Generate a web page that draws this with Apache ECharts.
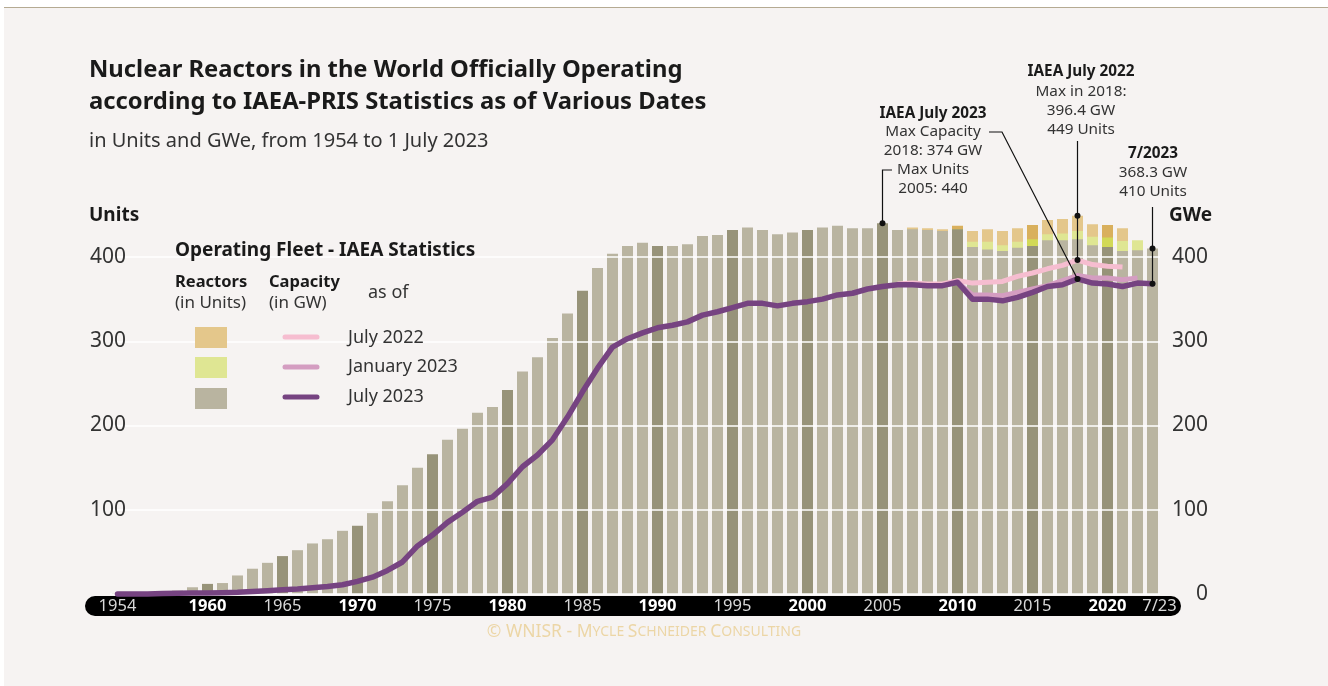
<!DOCTYPE html>
<html>
<head>
<meta charset="utf-8">
<title>Nuclear Reactors in the World</title>
<script src="https://cdn.jsdelivr.net/npm/echarts@6/dist/echarts.min.js"></script>
<style>
  html, body { margin: 0; padding: 0; background: #fff; }
  #chart { width: 1328px; height: 686px; }
</style>
</head>
<body>
<div id="chart"></div>
<script>
  // categories: one per year, last bar is the mid-2023 status
  const years = ['1954', '1955', '1956', '1957', '1958', '1959', '1960', '1961', '1962', '1963',
    '1964', '1965', '1966', '1967', '1968', '1969', '1970', '1971', '1972', '1973',
    '1974', '1975', '1976', '1977', '1978', '1979', '1980', '1981', '1982', '1983',
    '1984', '1985', '1986', '1987', '1988', '1989', '1990', '1991', '1992', '1993',
    '1994', '1995', '1996', '1997', '1998', '1999', '2000', '2001', '2002', '2003',
    '2004', '2005', '2006', '2007', '2008', '2009', '2010', '2011', '2012', '2013',
    '2014', '2015', '2016', '2017', '2018', '2019', '2020', '2021', '2022', '7/23'];

  // x labels that are printed on the black band
  const xLabels = ['1954', '1960', '1965', '1970', '1975', '1980', '1985', '1990', '1995',
    '2000', '2005', '2010', '2015', '2020', '7/23'];

  // reactors in operation (units), IAEA July 2023
  const unitsJul23 = [1, 1, 1, 2, 4, 8, 12, 13, 22, 30,
    37, 45, 52, 60, 65, 75, 81, 96, 110, 129,
    150, 166, 183, 196, 215, 222, 242, 264, 281, 304,
    333, 360, 387, 404, 413, 417, 413, 413, 415, 425,
    426, 432, 435, 432, 427, 429, 432, 435, 437, 434,
    434, 440, 432, 433, 432, 431, 433, 412, 409, 407,
    411, 413, 420, 420, 421, 414, 412, 407, 408, 410];
  // older statistics, only where they differ from July 2023
  const startJan23 = '2010';
  const unitsJan23 = [433, 418, 418, 414, 418, 421, 427, 428, 431, 424, 423, 419, 420];
  const startJul22 = '2006';
  const unitsJul22 = [432, 435, 434, 433, 437, 431, 433, 431, 434, 438, 444, 445, 449, 439, 438, 434];

  // capacity (GWe)
  const capJul23 = [0, 0, 0.1, 0.5, 1, 1.2, 1.3, 1.6, 2, 3,
    4, 5, 6, 7.5, 9, 11, 15, 20, 28, 38,
    57, 70, 85, 97, 110, 115, 131, 151, 165, 183,
    210, 240, 268, 293, 303, 310, 316, 319, 323, 331,
    335, 340, 345, 345, 342, 345, 347, 350, 355, 357,
    362, 365, 367, 367, 366, 366, 370, 350, 350, 348,
    352, 358, 365, 367, 374, 369, 368, 365, 369, 368.3];
  const capJan23 = [370, 355, 355, 354, 358, 362, 366, 372, 378, 375, 375, 373, 375];
  const capJul22 = [368, 369, 368, 368, 372, 369, 370, 371, 377, 381, 386, 390, 396.4, 391, 389, 388];

  const yTicks = [0, 100, 200, 300, 400];

  const FONT = '"Noto Sans", "Open Sans", sans-serif';

  // pad a partial list to full category length
  function pad(arr, start){
    const i = years.indexOf(start);
    const out = new Array(i).fill(null).concat(arr);
    while(out.length < years.length) out.push(null);
    return out;
  }
  function isFifth(cat){
    return cat !== '7/23' && (+cat) % 5 === 0;
  }
  function colored(arr, light, dark){
    return arr.map((v, i) => v == null ? null : {
      value: v,
      itemStyle: { color: isFifth(years[i]) ? dark : light }
    });
  }

  const barBase = {
    type: 'bar',
    barWidth: 11,
    barGap: '-100%',
    z: 1,
    clip: false,
    silent: true
  };
  const lineBase = {
    type: 'line',
    yAxisIndex: 1,
    symbol: 'none',
    z: 3,
    clip: false,
    silent: true,
    connectNulls: false
  };

  const chart = echarts.init(document.getElementById('chart'));

  chart.setOption({
    animation: false,
    backgroundColor: 'transparent',
    grid: { left: 110, right: 168, top: 257, bottom: 92, containLabel: false },
    xAxis: {
      type: 'category',
      data: years,
      z: 5,
      axisLine: { show: false },
      axisTick: { show: false },
      axisLabel: {
        margin: 12,
        verticalAlign: 'middle',
        hideOverlap: false,
        interval: (idx, v) => xLabels.indexOf(v) >= 0,
        formatter: v => {
          if(v === '7/23') return '{e|' + v + '}';
          if(v !== '1954' && (+v) % 10 === 0) return '{b|' + v + '}';
          return '{n|' + v + '}';
        },
        rich: {
          b: { color: '#fff', fontWeight: 'bold', fontSize: 16.5, fontFamily: FONT },
          n: { color: '#d8d8d8', fontSize: 16.5, fontFamily: FONT },
          e: { color: '#d8d8d8', fontSize: 16.5, fontFamily: FONT, padding: [0, 0, 0, 14] }
        }
      }
    },
    yAxis: [
      {
        type: 'value', min: yTicks[0], max: yTicks[yTicks.length - 1], interval: 100,
        position: 'left', z: 2,
        axisLine: { show: false }, axisTick: { show: false },
        splitLine: { lineStyle: { color: '#fff', width: 1.5 } },
        axisLabel: {
          align: 'left', margin: 20, fontSize: 21, color: '#333', fontFamily: FONT,
          formatter: v => v === 0 ? '' : v
        }
      },
      {
        type: 'value', min: yTicks[0], max: yTicks[yTicks.length - 1], interval: 100,
        position: 'right',
        axisLine: { show: false }, axisTick: { show: false },
        splitLine: { show: false },
        axisLabel: { align: 'right', margin: 48, fontSize: 21, color: '#333', fontFamily: FONT }
      }
    ],
    series: [
      Object.assign({}, barBase, { name: 'Units July 2022', data: colored(pad(unitsJul22, startJul22), '#e4c78b', '#d9b05d') }),
      Object.assign({}, barBase, { name: 'Units January 2023', data: colored(pad(unitsJan23, startJan23), '#dfe693', '#d2d957') }),
      Object.assign({}, barBase, { name: 'Units July 2023', data: colored(unitsJul23, '#b9b4a0', '#979379') }),
      Object.assign({}, lineBase, { name: 'GW July 2022', data: pad(capJul22, startJul22),
        lineStyle: { color: '#f6bdd0', width: 5, join: 'round' } }),
      Object.assign({}, lineBase, { name: 'GW January 2023', data: pad(capJan23, startJan23),
        lineStyle: { color: '#d49dc1', width: 5, join: 'round' } }),
      Object.assign({}, lineBase, { name: 'GW July 2023', data: capJul23,
        lineStyle: { color: '#764381', width: 5.5, join: 'round', cap: 'round' } })
    ]
  });

  // pixel positions of the annotated values
  const at = (cat, v) => chart.convertToPixel({ xAxisIndex: 0, yAxisIndex: 0 }, [cat, v]);
  const pMaxUnits = at('2005', unitsJul23[years.indexOf('2005')]);
  const pMaxCap = at('2018', capJul23[years.indexOf('2018')]);
  const pJul22Units = at('2018', unitsJul22[years.indexOf('2018') - years.indexOf(startJul22)]);
  const pJul22Cap = at('2018', capJul22[years.indexOf('2018') - years.indexOf(startJul22)]);
  const pNowUnits = at('7/23', unitsJul23[years.length - 1]);
  const pNowCap = at('7/23', capJul23[years.length - 1]);

  function txt(x, y, text, size, bold, align, color){
    return {
      type: 'text', x: x, y: y, z: 20,
      style: {
        text: text,
        fill: color || '#1a1a1a',
        font: (bold ? 'bold ' : '') + size + 'px ' + FONT,
        textAlign: align || 'left',
        textVerticalAlign: 'middle'
      }
    };
  }
  function leader(points){
    return { type: 'polyline', z: 20, shape: { points: points }, style: { stroke: '#111', lineWidth: 1.2, fill: null } };
  }
  function dot(p){
    return { type: 'circle', z: 21, shape: { cx: p[0], cy: p[1], r: 3 }, style: { fill: '#111' } };
  }
  function swatch(y, color){
    return { type: 'rect', z: 20, shape: { x: 195, y: y, width: 32, height: 21 }, style: { fill: color } };
  }
  function legendLine(y, color){
    return { type: 'line', z: 20, shape: { x1: 285, y1: y, x2: 317, y2: y }, style: { stroke: color, lineWidth: 5, lineCap: 'round' } };
  }

  const graphics = [
    // panel background and top rule
    { type: 'rect', z: -10, shape: { x: 4, y: 8, width: 1324, height: 678 }, style: { fill: '#f6f3f2' } },
    { type: 'rect', z: -10, shape: { x: 4, y: 7, width: 1324, height: 1 }, style: { fill: '#b5aa92' } },
    // black band under the years
    { type: 'rect', z: 1, shape: { x: 85, y: 596, width: 1096, height: 20, r: 10 }, style: { fill: '#000' } },

    txt(89, 70, 'Nuclear Reactors in the World Officially Operating', 23.8, true),
    txt(89, 102, 'according to IAEA-PRIS Statistics as of Various Dates', 23.8, true),
    txt(89, 141, 'in Units and GWe, from 1954 to 1 July 2023', 20, false, 'left', '#333'),
    txt(89, 216, 'Units', 19, true),
    txt(1169, 216, 'GWe', 19, true),

    // legend
    txt(175, 251, 'Operating Fleet - IAEA Statistics', 19, true),
    txt(175, 282, 'Reactors', 16.5, true),
    txt(175, 303, '(in Units)', 17, false, 'left', '#333'),
    txt(269, 282, 'Capacity', 16.5, true),
    txt(269, 303, '(in GW)', 17, false, 'left', '#333'),
    txt(368, 293, 'as of', 18, false, 'left', '#333'),
    swatch(327, '#e4c78b'),
    swatch(357, '#dfe693'),
    swatch(388, '#b9b4a0'),
    legendLine(337, '#f6bdd0'),
    legendLine(367, '#d49dc1'),
    legendLine(397, '#764381'),
    txt(348, 338, 'July 2022', 18, false, 'left', '#333'),
    txt(348, 367, 'January 2023', 18, false, 'left', '#333'),
    txt(348, 397, 'July 2023', 18, false, 'left', '#333'),

    // IAEA July 2023 note
    txt(933, 114, 'IAEA July 2023', 15.3, true, 'center'),
    txt(933, 132, 'Max Capacity', 15.3, false, 'center', '#333'),
    txt(933, 151, '2018: 374 GW', 15.3, false, 'center', '#333'),
    txt(933, 170, 'Max Units', 15.3, false, 'center', '#333'),
    txt(933, 189, '2005: 440', 15.3, false, 'center', '#333'),
    leader([[892, 170], [pMaxUnits[0], 170], pMaxUnits]),
    dot(pMaxUnits),
    leader([[989, 132], [1002, 132], pMaxCap]),
    dot(pMaxCap),

    // IAEA July 2022 note
    txt(1081, 72, 'IAEA July 2022', 15.3, true, 'center'),
    txt(1081, 92, 'Max in 2018:', 15.3, false, 'center', '#333'),
    txt(1081, 111, '396.4 GW', 15.3, false, 'center', '#333'),
    txt(1081, 130, '449 Units', 15.3, false, 'center', '#333'),
    leader([[pJul22Units[0], 141], pJul22Cap]),
    dot(pJul22Units),
    dot(pJul22Cap),

    // latest status
    txt(1153, 154, '7/2023', 15.3, true, 'center'),
    txt(1153, 173, '368.3 GW', 15.3, false, 'center', '#333'),
    txt(1153, 192, '410 Units', 15.3, false, 'center', '#333'),
    leader([[pNowUnits[0], 207], pNowCap]),
    dot(pNowUnits),
    dot(pNowCap),

    // credit line in small caps
    {
      type: 'text', x: 644, y: 632, z: 20,
      style: {
        text: '{a|© WNISR - M}{s|YCLE }{a|S}{s|CHNEIDER }{a|C}{s|ONSULTING}',
        textAlign: 'center', textVerticalAlign: 'middle',
        rich: {
          a: { fill: '#ecd6a6', font: '17.5px ' + FONT },
          s: { fill: '#ecd6a6', font: '14px ' + FONT }
        }
      }
    }
  ];

  chart.setOption({ graphic: graphics });
</script>
</body>
</html>
